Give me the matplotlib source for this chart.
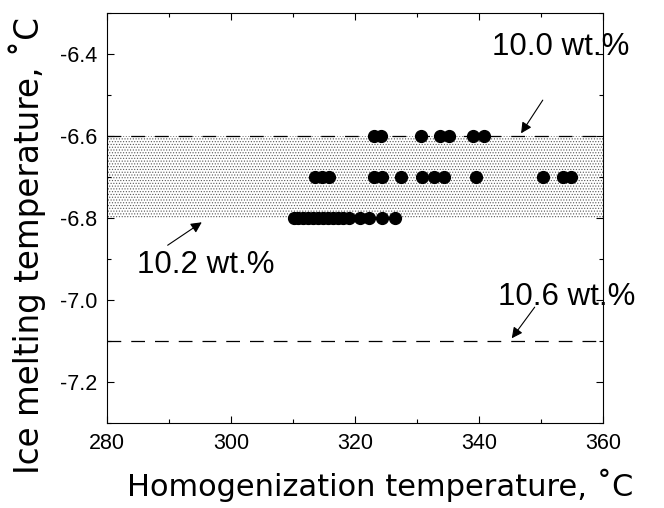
import matplotlib
matplotlib.use("Agg")
import matplotlib.pyplot as plt
from matplotlib.ticker import MultipleLocator

# measured inclusions (homogenization T, ice melting T)
th_68 = [310.1, 310.9, 311.7, 312.5, 313.3, 314.1, 314.9, 315.7, 316.5, 317.3,
         318.1, 319.1, 320.9, 322.2, 324.3, 326.5]
th_67 = [313.5, 314.7, 315.9, 323.1, 324.4, 327.5, 330.8, 332.8, 334.3, 339.5,
         350.3, 353.5, 354.9]
th_66 = [323.1, 324.2, 330.6, 333.8, 335.2, 339.1, 340.8]
tm_rows = [-6.8, -6.7, -6.6]

band = (-6.8, -6.6)      # 10.0 - 10.2 wt.% range
line_106 = -7.1          # 10.6 wt.%
labels = ["10.0 wt.%", "10.2 wt.%", "10.6 wt.%"]

plt.rcParams['hatch.linewidth'] = 0.5
plt.rcParams['hatch.color'] = '0.35'

fig = plt.figure(figsize=(6.64, 5.08), dpi=100)
ax = fig.add_axes([0.161, 0.167, 0.747, 0.807])

ax.fill_between([280, 360], band[0], band[1], facecolor='white',
                hatch='......', edgecolor='0.35', linewidth=0)
ax.plot([280, 360], [band[1], band[1]], color='black', lw=0.9, dashes=(11, 8))
ax.plot([280, 360], [line_106, line_106], color='black', lw=0.9, dashes=(11, 8))

for xs, y in zip([th_68, th_67, th_66], tm_rows):
    ax.plot(xs, [y] * len(xs), 'o', color='black', markersize=8.5, ls='none')

txt = dict(fontsize=22.5, family=['Liberation Sans', 'DejaVu Sans'],
           ha='center', va='center')
arr = dict(arrowstyle='-|>', color='black', lw=0.8, mutation_scale=16,
           shrinkA=0, shrinkB=0)

ax.text(353.2, -6.383, labels[0], **txt)
ax.annotate('', xy=(346.8, -6.593), xytext=(350.3, -6.512), arrowprops=arr)
ax.text(296.0, -6.915, labels[1], **txt)
ax.annotate('', xy=(295.3, -6.81), xytext=(289.8, -6.866), arrowprops=arr)
ax.text(354.2, -6.993, labels[2], **txt)
ax.annotate('', xy=(345.3, -7.093), xytext=(349.0, -7.017), arrowprops=arr)

ax.set_xlim(280, 360)
ax.set_ylim(-7.3, -6.3)
ax.xaxis.set_major_locator(MultipleLocator(20))
ax.xaxis.set_minor_locator(MultipleLocator(10))
ax.yaxis.set_major_locator(MultipleLocator(0.2))
ax.yaxis.set_minor_locator(MultipleLocator(0.1))
ax.set_yticks([-6.4, -6.6, -6.8, -7.0, -7.2])
ax.set_yticklabels(['-6.4', '-6.6', '-6.8', '-7.0', '-7.2'])

ax.tick_params(which='both', direction='in', top=True, right=True, width=0.8)
ax.tick_params(which='major', length=5, pad=7)
ax.tick_params(which='minor', length=3)
for lab in ax.get_xticklabels() + ax.get_yticklabels():
    lab.set_family(['Liberation Sans', 'DejaVu Sans'])
    lab.set_fontsize(15.5)
for s in ax.spines.values():
    s.set_linewidth(0.8)

ax.set_xlabel('Homogenization temperature, \u02daC', fontsize=22,
              family='DejaVu Sans')
ax.set_ylabel('Ice melting temperature, \u02daC', fontsize=23.5,
              family='DejaVu Sans')
ax.xaxis.set_label_coords(0.55, -0.112)
ax.yaxis.set_label_coords(-0.122, 0.434)

fig.savefig('out.png', dpi=100)
